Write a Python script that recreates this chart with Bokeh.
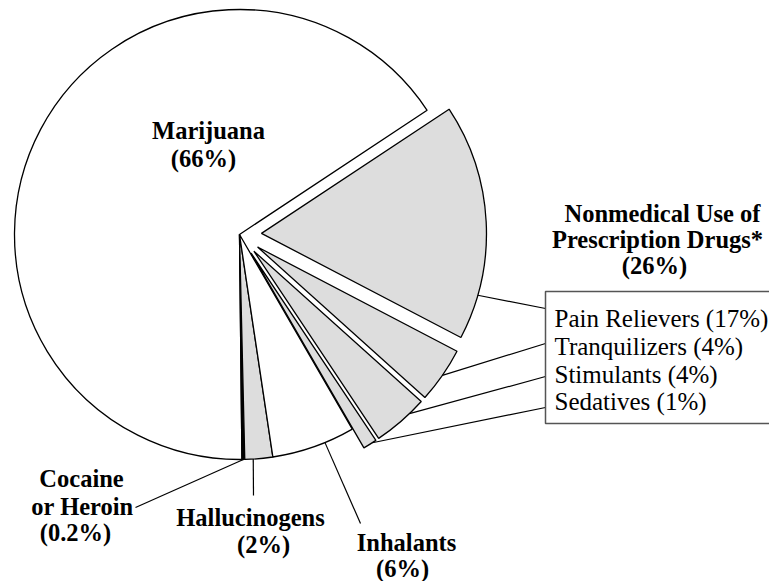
import numpy as np
from bokeh.plotting import figure
from bokeh.models import ColumnDataSource, Range1d
from bokeh.core.properties import value
from bokeh.embed import file_html
from bokeh.resources import INLINE

# ---------------- data ----------------
categories = ["Marijuana", "Cocaine or Heroin", "Hallucinogens", "Inhalants",
              "Sedatives", "Stimulants", "Tranquilizers", "Pain Relievers"]
shares = [66, 0.2, 2, 6, 1, 4, 4, 17]
group_name = "Nonmedical Use of Prescription Drugs*"
group_share = 26
rx_items = ["Pain Relievers", "Tranquilizers", "Stimulants", "Sedatives"]
rx_shares = [17, 4, 4, 1]

# ---------------- style / layout ----------------
fills = ["white", "black", "#dddddd", "white", "#dddddd", "#dddddd", "#dddddd", "#dddddd"]
exploded = [0, 0, 0, 0, 1, 1, 1, 1]
W, H = 769, 581
IMG_H = 581


def fy(yimg):
    return IMG_H - yimg


CX, CY = 239, fy(234)
R = 225
EXPLODE = 22
START_DEG = 33.5

total = float(sum(shares))
spans = [s / total * 360.0 for s in shares]
starts = [START_DEG + sum(spans[:i]) for i in range(len(spans))]
ends = [a + b for a, b in zip(starts, spans)]
mids = [(a + b) / 2 for a, b in zip(starts, ends)]
xs = [CX + EXPLODE * e * np.cos(np.radians(m)) for e, m in zip(exploded, mids)]
ys = [CY + EXPLODE * e * np.sin(np.radians(m)) for e, m in zip(exploded, mids)]

src = ColumnDataSource(dict(
    x=xs, y=ys,
    start=[np.radians(a) for a in starts],
    end=[np.radians(b) for b in ends],
    fill=fills, name=categories,
))

p = figure(width=W, height=H, output_backend="svg", toolbar_location=None,
           x_range=Range1d(0, W), y_range=Range1d(fy(H), fy(0)),
           x_axis_location=None, y_axis_location=None, min_border=0)
p.grid.visible = False
p.outline_line_color = None
p.background_fill_color = "white"

p.wedge(x="x", y="y", radius=R, start_angle="start", end_angle="end",
        direction="anticlock", fill_color="fill", line_color="black",
        line_width=1.3, source=src)


def arc_point(i, frac):
    ang = np.radians(starts[i] + frac * spans[i])
    return xs[i] + R * np.cos(ang), ys[i] + R * np.sin(ang)


# leader lines: (slice index, fraction along arc, end point in page px)
leaders = [
    (1, 0.5, (135, 507)),
    (2, 0.3, (253, 495)),
    (3, 0.64, (360, 523)),
    (7, 0.19, (545, 308)),
    (6, 0.5, (545, 343)),
    (5, 0.7, (545, 376)),
    (4, 0.7, (545, 407)),
]
lx0, ly0, lx1, ly1 = [], [], [], []
for i, f, (ex, ey) in leaders:
    sx, sy = arc_point(i, f)
    lx0.append(sx); ly0.append(sy); lx1.append(ex); ly1.append(fy(ey))
p.segment(x0=lx0, y0=ly0, x1=lx1, y1=ly1, line_color="black", line_width=1.2)

# legend box for prescription drugs
p.quad(left=[545], right=[800], top=[fy(291)], bottom=[fy(423)],
       fill_color=None, line_color="#555555", line_width=1.5)

serif = value("Liberation Serif")
BOLD = "24.5px"

bold_labels = [
    ("Marijuana", 208, 130), (f"({shares[0]}%)", 203, 158),
    ("Cocaine", 81, 478), ("or Heroin", 82, 506), (f"({shares[1]}%)", 75, 532),
    ("Hallucinogens", 250, 517), (f"({shares[2]}%)", 263, 544),
    ("Inhalants", 406, 542), (f"({shares[3]}%)", 402, 568),
    ("Nonmedical Use of", 662, 213), ("Prescription Drugs*", 657, 239),
    (f"({group_share}%)", 654, 265),
]
p.text(x=[b[1] for b in bold_labels], y=[fy(b[2]) for b in bold_labels],
       text=[b[0] for b in bold_labels], text_font=serif, text_font_style="bold",
       text_font_size=BOLD, text_align="center", text_baseline="middle",
       text_color="black")

box_y = [318, 346, 374, 401]
p.text(x=[554] * 4, y=[fy(v) for v in box_y],
       text=[f"{n} ({s}%)" for n, s in zip(rx_items, rx_shares)],
       text_font=serif, text_font_size="25px", text_align="left",
       text_baseline="middle", text_color="black")

open("out.html", "w").write(file_html(p, INLINE))
